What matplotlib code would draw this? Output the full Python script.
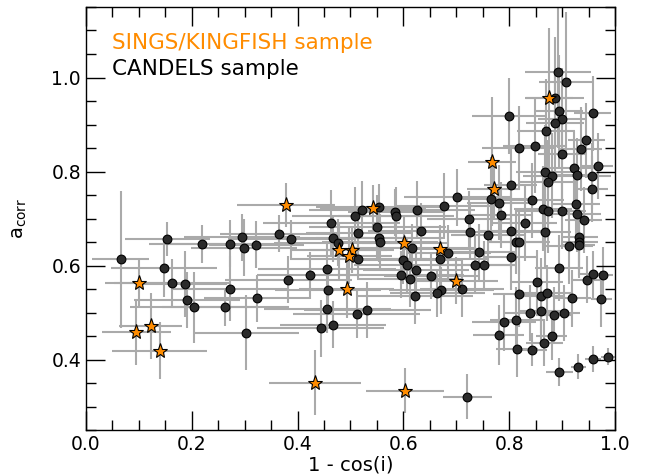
import matplotlib
matplotlib.use("Agg")
import matplotlib.pyplot as plt
from matplotlib.ticker import MultipleLocator

# CANDELS sample: x = 1 - cos(i), y = a_corr, with errors
cand_x = [0.066, 0.154, 0.148, 0.163, 0.187, 0.191, 0.204, 0.220, 0.273, 0.273,
          0.263, 0.295, 0.298, 0.322, 0.323, 0.303, 0.364, 0.388, 0.382, 0.423,
          0.456, 0.458, 0.456, 0.444, 0.467, 0.464, 0.466, 0.476, 0.509, 0.515,
          0.515, 0.512, 0.803, 0.701, 0.677, 0.626, 0.554, 0.522, 0.585, 0.586,
          0.765, 0.781, 0.785, 0.724, 0.551, 0.633, 0.726, 0.760, 0.803, 0.554,
          0.556, 0.813, 0.616, 0.685, 0.669, 0.600, 0.606, 0.624, 0.742, 0.735,
          0.752, 0.803, 0.595, 0.613, 0.653, 0.711, 0.672, 0.664, 0.622, 0.532,
          0.819, 0.790, 0.813, 0.780, 0.815, 0.721, 0.892, 0.907, 0.887, 0.894,
          0.899, 0.886, 0.958, 0.799, 0.870, 0.946, 0.936, 0.849, 0.819, 0.900,
          0.967, 0.923, 0.868, 0.881, 0.929, 0.957, 0.873, 0.957, 0.844, 0.926,
          0.864, 0.873, 0.900, 0.928, 0.941, 0.830, 0.867, 0.818, 0.914, 0.932,
          0.932, 0.932, 0.894, 0.852, 0.861, 0.872, 0.919, 0.948, 0.958, 0.977,
          0.974, 0.839, 0.860, 0.885, 0.903, 0.880, 0.866, 0.843, 0.895, 0.931,
          0.958, 0.987]
cand_y = [0.613, 0.657, 0.594, 0.563, 0.560, 0.526, 0.511, 0.646, 0.646, 0.551,
          0.511, 0.660, 0.638, 0.644, 0.530, 0.457, 0.668, 0.657, 0.570, 0.579,
          0.592, 0.547, 0.507, 0.466, 0.474, 0.690, 0.658, 0.648, 0.706, 0.670,
          0.613, 0.496, 0.772, 0.745, 0.726, 0.719, 0.724, 0.719, 0.713, 0.706,
          0.741, 0.734, 0.707, 0.698, 0.681, 0.674, 0.672, 0.664, 0.674, 0.658,
          0.650, 0.651, 0.638, 0.627, 0.613, 0.611, 0.601, 0.591, 0.628, 0.602,
          0.602, 0.618, 0.580, 0.571, 0.578, 0.551, 0.547, 0.541, 0.536, 0.505,
          0.540, 0.479, 0.484, 0.453, 0.422, 0.321, 1.011, 0.990, 0.956, 0.928,
          0.911, 0.903, 0.924, 0.918, 0.887, 0.866, 0.848, 0.854, 0.850, 0.838,
          0.811, 0.807, 0.799, 0.791, 0.792, 0.791, 0.777, 0.762, 0.739, 0.730,
          0.721, 0.717, 0.716, 0.709, 0.696, 0.690, 0.672, 0.650, 0.641, 0.660,
          0.650, 0.643, 0.594, 0.564, 0.536, 0.541, 0.530, 0.570, 0.581, 0.579,
          0.529, 0.499, 0.504, 0.494, 0.499, 0.450, 0.436, 0.421, 0.374, 0.385,
          0.401, 0.406]
cand_xerr = [0.054, 0.080, 0.100, 0.110, 0.080, 0.100, 0.120, 0.100, 0.120, 0.110,
             0.120, 0.110, 0.100, 0.090, 0.100, 0.100, 0.110, 0.120, 0.120, 0.100,
             0.130, 0.100, 0.120, 0.120, 0.100, 0.130, 0.150, 0.120, 0.120, 0.100,
             0.130, 0.120, 0.050, 0.100, 0.090, 0.110, 0.120, 0.100, 0.090, 0.110,
             0.070, 0.060, 0.060, 0.080, 0.130, 0.100, 0.090, 0.070, 0.060, 0.120,
             0.110, 0.050, 0.120, 0.080, 0.090, 0.110, 0.100, 0.100, 0.070, 0.080,
             0.060, 0.050, 0.120, 0.100, 0.090, 0.080, 0.100, 0.090, 0.110, 0.120,
             0.050, 0.060, 0.050, 0.048, 0.040, 0.047, 0.063, 0.050, 0.055, 0.045,
             0.045, 0.055, 0.035, 0.070, 0.055, 0.035, 0.040, 0.060, 0.070, 0.045,
             0.030, 0.045, 0.055, 0.055, 0.040, 0.035, 0.055, 0.030, 0.060, 0.045,
             0.055, 0.060, 0.045, 0.045, 0.035, 0.060, 0.050, 0.060, 0.045, 0.035,
             0.035, 0.030, 0.045, 0.050, 0.045, 0.045, 0.035, 0.030, 0.025, 0.020,
             0.020, 0.050, 0.040, 0.035, 0.030, 0.030, 0.035, 0.028, 0.025, 0.015,
             0.015, 0.013]
cand_yerr = [0.145, 0.036, 0.060, 0.050, 0.070, 0.060, 0.075, 0.040, 0.050, 0.070,
             0.040, 0.050, 0.060, 0.050, 0.050, 0.080, 0.040, 0.040, 0.050, 0.050,
             0.060, 0.050, 0.050, 0.060, 0.050, 0.070, 0.050, 0.050, 0.060, 0.050,
             0.040, 0.050, 0.080, 0.060, 0.070, 0.060, 0.050, 0.060, 0.050, 0.060,
             0.090, 0.080, 0.070, 0.060, 0.070, 0.060, 0.060, 0.070, 0.080, 0.050,
             0.060, 0.070, 0.050, 0.060, 0.060, 0.050, 0.060, 0.050, 0.060, 0.060,
             0.050, 0.070, 0.050, 0.060, 0.050, 0.060, 0.050, 0.050, 0.060, 0.060,
             0.070, 0.060, 0.070, 0.064, 0.060, 0.048, 0.160, 0.150, 0.130, 0.120,
             0.110, 0.110, 0.080, 0.080, 0.110, 0.080, 0.090, 0.100, 0.090, 0.100,
             0.070, 0.080, 0.100, 0.090, 0.080, 0.070, 0.090, 0.070, 0.080, 0.080,
             0.090, 0.090, 0.080, 0.080, 0.070, 0.080, 0.080, 0.070, 0.080, 0.070,
             0.070, 0.070, 0.070, 0.070, 0.080, 0.060, 0.060, 0.050, 0.050, 0.060,
             0.060, 0.060, 0.070, 0.060, 0.060, 0.050, 0.050, 0.035, 0.030, 0.026,
             0.028, 0.018]

# SINGS/KINGFISH sample
sk_x = [0.378, 0.101, 0.122, 0.095, 0.139, 0.433, 0.479, 0.502, 0.498, 0.493,
        0.767, 0.771, 0.542, 0.602, 0.669, 0.699, 0.603, 0.875]
sk_y = [0.728, 0.562, 0.472, 0.458, 0.419, 0.351, 0.632, 0.634, 0.621, 0.549,
        0.821, 0.762, 0.722, 0.647, 0.636, 0.568, 0.334, 0.956]
sk_xerr = [0.093, 0.065, 0.060, 0.065, 0.090, 0.087, 0.090, 0.080, 0.080, 0.090,
           0.045, 0.050, 0.100, 0.080, 0.070, 0.080, 0.073, 0.045]
sk_yerr = [0.047, 0.050, 0.070, 0.070, 0.060, 0.070, 0.060, 0.050, 0.060, 0.060,
           0.137, 0.060, 0.050, 0.060, 0.050, 0.050, 0.047, 0.150]

xlabel = "1 - cos(i)"
ylabel = r"a$_{\rm corr}$"
label_sk = "SINGS/KINGFISH sample"
label_cand = "CANDELS sample"

ebar_col = "#aaaaaa"
orange = "#ff8c00"

fig = plt.figure(figsize=(6.46, 4.76), dpi=100)
ax = fig.add_axes([0.1331, 0.0966, 0.8189, 0.8887])

ax.errorbar(cand_x, cand_y, xerr=cand_xerr, yerr=cand_yerr, fmt="none",
            ecolor=ebar_col, elinewidth=1.5, capsize=0, zorder=1)
ax.errorbar(sk_x, sk_y, xerr=sk_xerr, yerr=sk_yerr, fmt="none",
            ecolor=ebar_col, elinewidth=1.5, capsize=0, zorder=1)
ax.plot(cand_x, cand_y, "o", ms=6.3, mfc="#2b2b2b", mec="black", mew=0.8,
        ls="none", zorder=3)
ax.plot(sk_x, sk_y, "*", ms=11, mfc=orange, mec="black", mew=0.8,
        ls="none", zorder=4)

ax.set_xlim(0.0, 1.0)
ax.set_ylim(0.25, 1.15)
ax.xaxis.set_major_locator(MultipleLocator(0.2))
ax.xaxis.set_minor_locator(MultipleLocator(0.05))
ax.yaxis.set_major_locator(MultipleLocator(0.2))
ax.yaxis.set_minor_locator(MultipleLocator(0.05))
ax.tick_params(which="both", direction="in", top=True, right=True,
               labelsize=13.5, width=1)
ax.tick_params(which="major", length=14)
ax.tick_params(which="minor", length=7)
ax.set_xticks([0.0, 0.2, 0.4, 0.6, 0.8, 1.0])
ax.set_xticklabels(["0.0", "0.2", "0.4", "0.6", "0.8", "1.0"])
ax.set_yticks([0.4, 0.6, 0.8, 1.0])
ax.set_yticklabels(["0.4", "0.6", "0.8", "1.0"])
for s in ax.spines.values():
    s.set_linewidth(1.0)

ax.set_xlabel(xlabel, fontsize=14, labelpad=1)
ax.set_ylabel(ylabel, fontsize=14, labelpad=16)

ax.text(0.049, 0.900, label_sk, color=orange, fontsize=15.5,
        transform=ax.transAxes, va="baseline", ha="left")
ax.text(0.049, 0.839, label_cand, color="black", fontsize=15.5,
        transform=ax.transAxes, va="baseline", ha="left")

fig.savefig("out.png", dpi=100)
